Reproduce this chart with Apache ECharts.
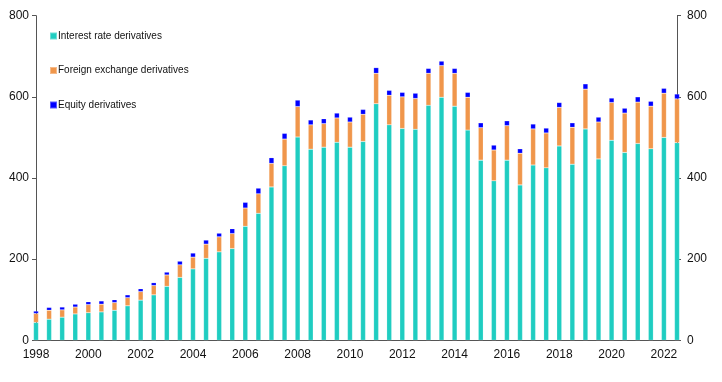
<!DOCTYPE html>
<html>
<head>
<meta charset="utf-8">
<script src="https://cdn.jsdelivr.net/npm/echarts@6/dist/echarts.min.js"></script>
<style>
html,body{margin:0;padding:0;background:#fff;}
#c{width:722px;height:382px;}
</style>
</head>
<body>
<div id="c"></div>
<script>
// Half-year periods (June / December), 1998 H1 .. 2022 H2
const periods = [
  '1998-H1','1998-H2','1999-H1','1999-H2','2000-H1','2000-H2','2001-H1','2001-H2',
  '2002-H1','2002-H2','2003-H1','2003-H2','2004-H1','2004-H2','2005-H1','2005-H2',
  '2006-H1','2006-H2','2007-H1','2007-H2','2008-H1','2008-H2','2009-H1','2009-H2',
  '2010-H1','2010-H2','2011-H1','2011-H2','2012-H1','2012-H2','2013-H1','2013-H2',
  '2014-H1','2014-H2','2015-H1','2015-H2','2016-H1','2016-H2','2017-H1','2017-H2',
  '2018-H1','2018-H2','2019-H1','2019-H2','2020-H1','2020-H2','2021-H1','2021-H2',
  '2022-H1','2022-H2'
];
const interestRate = [
  44, 52, 57, 65, 68, 70, 74, 85, 99, 112, 133, 155, 176, 202, 218, 226,
  281, 313, 378, 430, 501, 471, 476, 488, 476, 490, 583, 531, 522, 520,
  579, 599, 577, 518, 444, 393, 444, 383, 432, 425, 479, 434, 521, 447,
  493, 463, 485, 472, 500, 487
];
const foreignExchange = [
  22, 22, 18, 17, 20, 19, 19, 20, 21, 23, 28, 31, 29, 35, 37, 37,
  45, 48, 58, 66, 75, 60, 58, 60, 62, 67, 75, 73, 78, 76,
  79, 78, 81, 81, 80, 76, 85, 78, 89, 86, 95, 91, 98, 91,
  93, 97, 102, 105, 109, 108
];
const equity = [
  6, 7, 7, 7, 7, 8, 7, 7, 7, 7, 7, 9, 10, 10, 9, 12,
  14, 14, 14, 14, 16, 12, 12, 12, 12, 12, 14, 12, 11, 13,
  12, 11, 12, 12, 12, 12, 12, 11, 12, 12, 12, 11, 13, 12,
  11, 12, 13, 12, 12, 12
];
const yTicks = [0, 200, 400, 600, 800];
const seriesNames = ['Interest rate derivatives', 'Foreign exchange derivatives', 'Equity derivatives'];
const colors = ['#1fcdc1', '#f0964b', '#0000ff'];

const chart = echarts.init(document.getElementById('c'), null, {renderer: 'canvas'});
const font = 'Liberation Sans, Arial, sans-serif';
const axisColor = '#555555';
const yAxisBase = {
  type: 'value', min: yTicks[0], max: yTicks[yTicks.length - 1], interval: 200,
  splitLine: {show: false},
  axisLine: {show: true, lineStyle: {color: axisColor, width: 1}},
  axisTick: {show: true, length: 4, lineStyle: {color: axisColor}},
  axisLabel: {color: '#111', fontFamily: font, fontSize: 12, margin: 7}
};
function barSeries(name, data, color) {
  return {
    name: name, type: 'bar', stack: 'total', data: data,
    barWidth: 5, xAxisIndex: 0, yAxisIndex: 0,
    itemStyle: {color: color, borderColor: 'rgba(255,255,255,0.35)', borderWidth: 0.5},
    emphasis: {disabled: true}
  };
}
chart.setOption({
  animation: false,
  backgroundColor: '#ffffff',
  grid: {left: 36, right: 45, top: 15.7, bottom: 41.7, containLabel: false},
  legend: {
    orient: 'vertical', left: 44, top: 26,
    itemWidth: 7, itemHeight: 7, itemGap: 24.5,
    icon: 'rect',
    textStyle: {fontFamily: font, fontSize: 10, color: '#111', padding: [0, 0, 0, -4]},
    data: seriesNames
  },
  xAxis: [{
    type: 'category', data: periods, boundaryGap: false,
    axisLine: {show: true, lineStyle: {color: axisColor, width: 1}},
    axisTick: {show: false},
    axisLabel: {interval: 3, color: '#111', fontFamily: font, fontSize: 12, margin: 8,
      formatter: v => v.slice(0, 4)},
    splitLine: {show: false}
  }, {
    type: 'category', data: periods, boundaryGap: false, position: 'top',
    axisLine: {show: true, lineStyle: {color: axisColor, width: 1}},
    axisTick: {show: false}, axisLabel: {show: false}, splitLine: {show: false}
  }],
  yAxis: [
    Object.assign({}, yAxisBase, {position: 'left'}),
    Object.assign({}, yAxisBase, {position: 'right', axisLabel: Object.assign({}, yAxisBase.axisLabel, {margin: 10})})
  ],
  series: [
    barSeries(seriesNames[0], interestRate, colors[0]),
    barSeries(seriesNames[1], foreignExchange, colors[1]),
    barSeries(seriesNames[2], equity, colors[2])
  ]
});
</script>
</body>
</html>
